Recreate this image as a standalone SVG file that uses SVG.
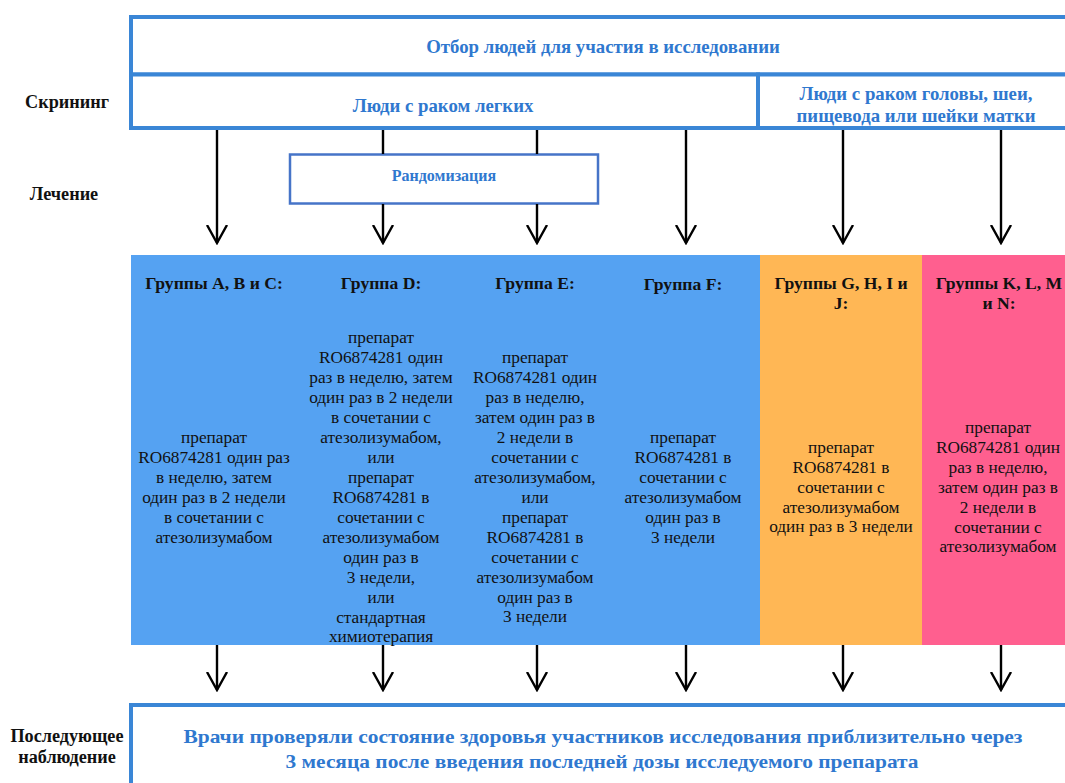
<svg xmlns="http://www.w3.org/2000/svg" width="1065" height="783" viewBox="0 0 1065 783">
<defs>
<marker id="ah" viewBox="0 0 20 24" refX="18" refY="12" markerWidth="20" markerHeight="24" markerUnits="userSpaceOnUse" orient="auto">
<path d="M0,2 L18,12 L0,22" fill="none" stroke="#000" stroke-width="2.4"/>
</marker>
<style>
.box{fill:#fff;stroke:#3A86D6;stroke-width:4}
.rnd{fill:#fff;stroke:#4674C8;stroke-width:2.5}
.bt{font-family:'Liberation Serif','DejaVu Serif','Times New Roman',serif;font-weight:bold;fill:#2F78CF;text-anchor:middle}
.lab{font-family:'Liberation Serif','DejaVu Serif','Times New Roman',serif;font-weight:bold;fill:#111;font-size:18.2px;text-anchor:middle}
.hd{font-family:'Liberation Serif','DejaVu Serif','Times New Roman',serif;font-weight:bold;fill:#111;font-size:17.6px;text-anchor:middle}
.tx{font-family:'Liberation Serif','DejaVu Serif','Times New Roman',serif;fill:#111;font-size:17.3px;text-anchor:middle}
.ar{stroke:#000;stroke-width:2.4;fill:none}
</style>
</defs>
<g id="labels">
<text class="lab" x="67" y="108">Скрининг</text>
<text class="lab" x="64" y="200">Лечение</text>
<text class="lab" x="67" y="742">Последующее</text>
<text class="lab" x="67" y="763">наблюдение</text>
</g>
<g id="selection">
<rect class="box" x="131" y="17" width="960" height="57.5"/>
<text class="bt" x="603" y="52.5" font-size="18.8">Отбор людей для участия в исследовании</text>
</g>
<g id="lung">
<rect class="box" x="131" y="74.5" width="627" height="53.5"/>
<text class="bt" x="443" y="111.5" font-size="18.8">Люди с раком легких</text>
</g>
<g id="headneck">
<rect class="box" x="758" y="74.5" width="333" height="53.5"/>
<text class="bt" x="916" y="99.5" font-size="18.8">Люди с раком головы, шеи,</text>
<text class="bt" x="916" y="121.5" font-size="18.8">пищевода или шейки матки</text>
</g>
<g id="randomization">
<rect class="rnd" x="290" y="154.5" width="308" height="49"/>
<text class="bt" x="444" y="181" font-size="16">Рандомизация</text>
</g>
<g id="connectors">
<line class="ar" x1="217" y1="130" x2="217" y2="243" marker-end="url(#ah)"/>
<line class="ar" x1="383" y1="130" x2="383" y2="154"/>
<line class="ar" x1="383" y1="204" x2="383" y2="243" marker-end="url(#ah)"/>
<line class="ar" x1="537" y1="130" x2="537" y2="154"/>
<line class="ar" x1="537" y1="204" x2="537" y2="243" marker-end="url(#ah)"/>
<line class="ar" x1="686" y1="130" x2="686" y2="243" marker-end="url(#ah)"/>
<line class="ar" x1="843" y1="130" x2="843" y2="243" marker-end="url(#ah)"/>
<line class="ar" x1="1001" y1="130" x2="1001" y2="243" marker-end="url(#ah)"/>
<line class="ar" x1="217" y1="645" x2="217" y2="690" marker-end="url(#ah)"/>
<line class="ar" x1="383" y1="645" x2="383" y2="690" marker-end="url(#ah)"/>
<line class="ar" x1="537" y1="645" x2="537" y2="690" marker-end="url(#ah)"/>
<line class="ar" x1="686" y1="645" x2="686" y2="690" marker-end="url(#ah)"/>
<line class="ar" x1="843" y1="645" x2="843" y2="690" marker-end="url(#ah)"/>
<line class="ar" x1="1001" y1="645" x2="1001" y2="690" marker-end="url(#ah)"/>
</g>
<g id="groups-bg">
<rect x="131" y="255" width="629" height="390" fill="#55A2F2"/>
<rect x="760" y="255" width="162" height="390" fill="#FFB755"/>
<rect x="922" y="255" width="143" height="390" fill="#FF5F8F"/>
</g>
<g id="groupABC">
<text class="hd" x="214" y="289">Группы A, B и C:</text>
<text class="tx" x="214" y="443">препарат</text>
<text class="tx" x="214" y="463">RO6874281 один раз</text>
<text class="tx" x="214" y="483">в неделю, затем</text>
<text class="tx" x="214" y="503">один раз в 2 недели</text>
<text class="tx" x="214" y="523">в сочетании с</text>
<text class="tx" x="214" y="543">атезолизумабом</text>
</g>
<g id="groupD">
<text class="hd" x="381" y="289">Группа D:</text>
<text class="tx" x="381" y="343">препарат</text>
<text class="tx" x="381" y="363">RO6874281 один</text>
<text class="tx" x="381" y="383">раз в неделю, затем</text>
<text class="tx" x="381" y="403">один раз в 2 недели</text>
<text class="tx" x="381" y="423">в сочетании с</text>
<text class="tx" x="381" y="443">атезолизумабом,</text>
<text class="tx" x="381" y="463">или</text>
<text class="tx" x="381" y="483">препарат</text>
<text class="tx" x="381" y="503">RO6874281 в</text>
<text class="tx" x="381" y="523">сочетании с</text>
<text class="tx" x="381" y="543">атезолизумабом</text>
<text class="tx" x="381" y="563">один раз в</text>
<text class="tx" x="381" y="583">3 недели,</text>
<text class="tx" x="381" y="603">или</text>
<text class="tx" x="381" y="623">стандартная</text>
<text class="tx" x="381" y="642">химиотерапия</text>
</g>
<g id="groupE">
<text class="hd" x="535" y="289">Группа E:</text>
<text class="tx" x="535" y="363">препарат</text>
<text class="tx" x="535" y="383">RO6874281 один</text>
<text class="tx" x="535" y="403">раз в неделю,</text>
<text class="tx" x="535" y="423">затем один раз в</text>
<text class="tx" x="535" y="443">2 недели в</text>
<text class="tx" x="535" y="463">сочетании с</text>
<text class="tx" x="535" y="483">атезолизумабом,</text>
<text class="tx" x="535" y="503">или</text>
<text class="tx" x="535" y="523">препарат</text>
<text class="tx" x="535" y="543">RO6874281 в</text>
<text class="tx" x="535" y="563">сочетании с</text>
<text class="tx" x="535" y="583">атезолизумабом</text>
<text class="tx" x="535" y="603">один раз в</text>
<text class="tx" x="535" y="622">3 недели</text>
</g>
<g id="groupF">
<text class="hd" x="683" y="290">Группа F:</text>
<text class="tx" x="683" y="443">препарат</text>
<text class="tx" x="683" y="463">RO6874281 в</text>
<text class="tx" x="683" y="483">сочетании с</text>
<text class="tx" x="683" y="503">атезолизумабом</text>
<text class="tx" x="683" y="523">один раз в</text>
<text class="tx" x="683" y="543">3 недели</text>
</g>
<g id="groupGHIJ">
<text class="hd" x="841" y="289">Группы G, H, I и</text>
<text class="hd" x="841" y="309">J:</text>
<text class="tx" x="841" y="453">препарат</text>
<text class="tx" x="841" y="473">RO6874281 в</text>
<text class="tx" x="841" y="493">сочетании с</text>
<text class="tx" x="841" y="513">атезолизумабом</text>
<text class="tx" x="841" y="532">один раз в 3 недели</text>
</g>
<g id="groupKLMN">
<text class="hd" x="999" y="289">Группы K, L, M</text>
<text class="hd" x="999" y="309">и N:</text>
<text class="tx" x="998" y="433">препарат</text>
<text class="tx" x="998" y="453">RO6874281 один</text>
<text class="tx" x="998" y="473">раз в неделю,</text>
<text class="tx" x="998" y="493">затем один раз в</text>
<text class="tx" x="998" y="513">2 недели в</text>
<text class="tx" x="998" y="533">сочетании с</text>
<text class="tx" x="998" y="552">атезолизумабом</text>
</g>
<g id="followup">
<rect class="box" x="131" y="705" width="960" height="100"/>
<text class="bt" x="603" y="743" font-size="19" textLength="839" lengthAdjust="spacingAndGlyphs">Врачи проверяли состояние здоровья участников исследования приблизительно через</text>
<text class="bt" x="602" y="768" font-size="19" textLength="633" lengthAdjust="spacingAndGlyphs">3 месяца после введения последней дозы исследуемого препарата</text>
</g>
</svg>
